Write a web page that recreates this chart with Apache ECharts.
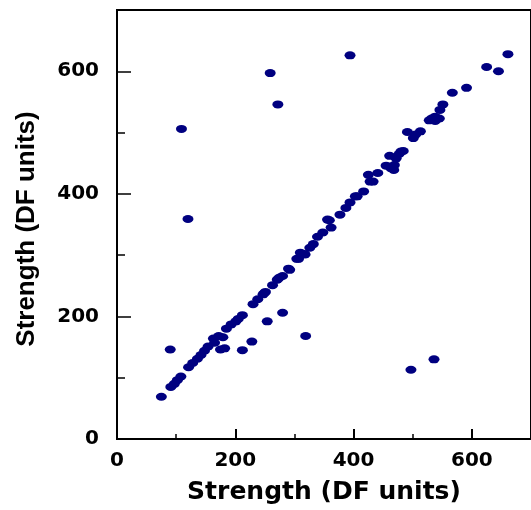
<!DOCTYPE html>
<html>
<head>
<meta charset="utf-8">
<script src="https://cdn.jsdelivr.net/npm/echarts@6/dist/echarts.min.js"></script>
<style>
  html, body { margin: 0; padding: 0; background: #fff; }
  #chart { width: 531px; height: 510px; }
</style>
</head>
<body>
<div id="chart"></div>
<script>
// measured strength values, x vs y
var strengthX = [75, 91, 97, 102, 108, 121, 128, 136, 142, 148, 154, 163, 165, 172, 179, 185, 193, 201, 205, 212,
  230, 238, 247, 249, 251, 263, 271, 274, 280, 290, 292, 304, 307, 310, 317, 318, 326, 332, 339, 348,
  356, 359, 362, 377, 387, 394, 403, 406, 417, 425, 428, 433, 441, 455, 461, 463, 468, 469, 472, 477,
  480, 484, 491, 501, 505, 513, 528, 532, 538, 538, 545, 546, 551, 567, 591, 625, 645, 661,
  90, 120, 109, 175, 182, 212, 228, 254, 280, 319, 259, 272, 394, 497, 536];
var strengthY = [69, 85, 90, 96, 102, 117, 124, 131, 137, 144, 151, 164, 157, 168, 166, 180, 187, 192, 196, 202,
  220, 228, 236, 238, 240, 251, 260, 263, 266, 278, 276, 294, 294, 304, 302, 301, 312, 318, 330, 337,
  358, 357, 345, 366, 377, 386, 396, 396, 404, 431, 420, 420, 434, 446, 462, 442, 439, 447, 458, 465,
  469, 470, 501, 491, 497, 502, 520, 523, 519, 526, 523, 537, 546, 565, 573, 607, 600, 628,
  146, 359, 506, 146, 148, 145, 159, 192, 206, 168, 597, 546, 626, 113, 130];

var majorTicks = [0, 200, 400, 600];
var minorTicks = [100, 300, 500];

var points = [];
for (var i = 0; i < strengthX.length; i++) {
  points.push([strengthX[i], strengthY[i]]);
}

var axisName = "Strength (DF units)";
var labelFont = {
  fontFamily: "DejaVu Sans",
  fontWeight: "bold",
  fontSize: 20,
  color: "#000"
};

var chart = echarts.init(document.getElementById("chart"));
var option = {
  animation: false,
  grid: {
    left: 117,
    right: -11,
    top: 10,
    bottom: 70,
    show: true,
    borderColor: "#000",
    borderWidth: 2
  },
  xAxis: [
    {
      type: "value",
      min: 0,
      max: 700,
      position: "bottom",
      name: axisName,
      nameLocation: "middle",
      nameGap: 41,
      nameTextStyle: {
        fontFamily: "DejaVu Sans",
        fontWeight: "bold",
        fontSize: 25,
        color: "#000"
      },
      splitLine: { show: false },
      axisLine: { lineStyle: { color: "#000", width: 2 } },
      axisTick: { inside: true, length: 10, customValues: majorTicks, lineStyle: { color: "#000", width: 2 } },
      axisLabel: Object.assign({ margin: 12, customValues: majorTicks }, labelFont)
    },
    {
      // minor ticks only
      type: "value",
      min: 0,
      max: 700,
      position: "bottom",
      splitLine: { show: false },
      axisLine: { show: false },
      axisTick: { inside: true, length: 5, customValues: minorTicks, lineStyle: { color: "#000", width: 1.5 } },
      axisLabel: { show: false }
    }
  ],
  yAxis: [
    {
      type: "value",
      min: 0,
      max: 700,
      position: "left",
      name: axisName,
      nameLocation: "middle",
      nameGap: 77,
      nameTextStyle: {
        fontFamily: "Liberation Sans",
        fontWeight: "bold",
        fontSize: 26,
        color: "#000",
        padding: [0, 9, 0, 0]
      },
      splitLine: { show: false },
      axisLine: { lineStyle: { color: "#000", width: 2 } },
      axisTick: { inside: true, length: 14, customValues: majorTicks, lineStyle: { color: "#000", width: 1.5 } },
      axisLabel: Object.assign({ margin: 18, customValues: majorTicks }, labelFont)
    },
    {
      type: "value",
      min: 0,
      max: 700,
      position: "left",
      splitLine: { show: false },
      axisLine: { show: false },
      axisTick: { inside: true, length: 8, customValues: minorTicks, lineStyle: { color: "#000", width: 1.5 } },
      axisLabel: { show: false }
    }
  ],
  series: [
    {
      type: "scatter",
      xAxisIndex: 0,
      yAxisIndex: 0,
      symbol: "circle",
      symbolSize: [11, 8],
      itemStyle: { color: "#000080", opacity: 1 },
      data: points
    }
  ]
};
chart.setOption(option);
</script>
</body>
</html>
